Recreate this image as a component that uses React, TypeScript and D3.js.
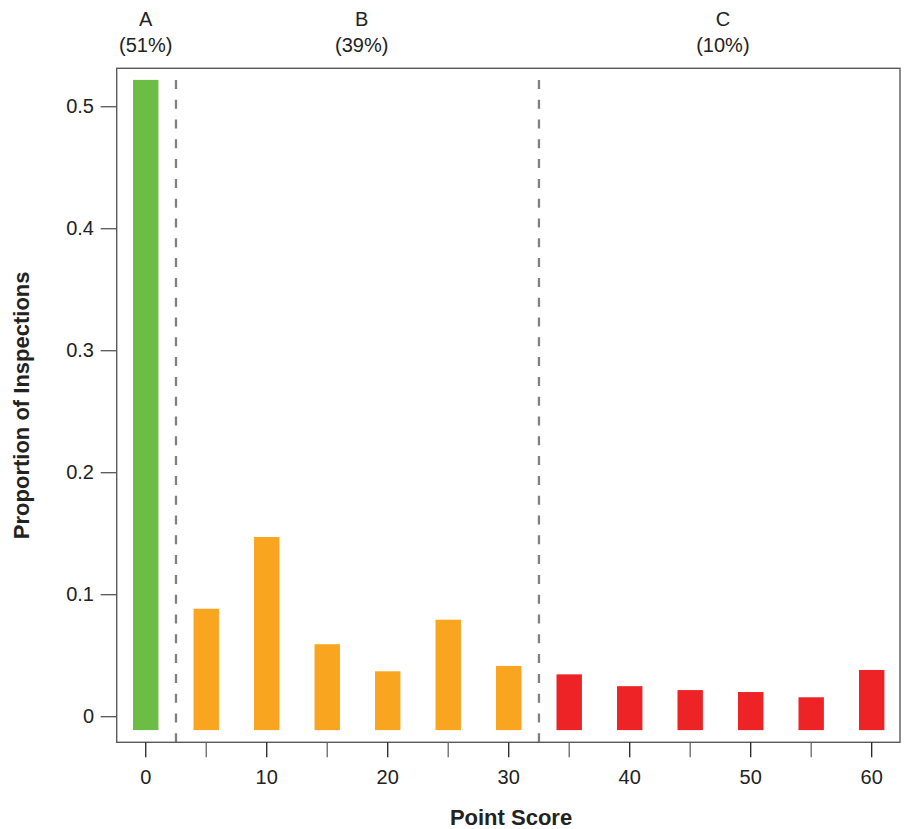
import React from "react";
import * as d3 from "d3";

// point scores (bins) and proportion of inspections per bin
const scores = [0, 5, 10, 15, 20, 25, 30, 35, 40, 45, 50, 55, 60];
const proportions = [
  0.522, 0.0885, 0.1473, 0.0594, 0.0372, 0.0795, 0.0416, 0.0347, 0.025,
  0.0218, 0.0202, 0.0159, 0.0383,
];
const gradeOf = (s: number) => (s <= 0 ? "A" : s <= 30 ? "B" : "C");

const gradeColors: Record<string, string> = {
  A: "#6cbd45",
  B: "#f9a51f",
  C: "#ee2326",
};

// grade labels on top
const gradeNames = ["A", "B", "C"];
const gradeShares = ["(51%)", "(39%)", "(10%)"];
const gradeLabelAt = [0, 17.85, 47.7];

// grade cut-offs
const cutoffs = [2.5, 32.5];

const xMajorTicks = [0, 10, 20, 30, 40, 50, 60];
const xMinorTicks = [5, 15, 25, 35, 45, 55];
const yTicks = [0, 0.1, 0.2, 0.3, 0.4, 0.5];

const barBase = -0.011;
const barHalf = 1.05;

export default function App() {
  const width = 906;
  const height = 829;
  const left = 116.7;
  const right = 900;
  const top = 68.3;
  const bottom = 742.3;

  const x = d3.scaleLinear().domain([-2.4, 62.34]).range([left, right]);
  const y = d3.scaleLinear().domain([-0.021, 0.5315]).range([bottom, top]);

  const font = "'Liberation Sans', Arial, sans-serif";

  return (
    <svg
      width={width}
      height={height}
      style={{ position: "absolute", left: 0, top: 0, fontFamily: font }}
    >
      <rect width={width} height={height} fill="#fff" />

      {/* bars */}
      {scores.map((s, i) => (
        <rect
          key={s}
          x={x(s - barHalf)}
          y={y(proportions[i])}
          width={x(s + barHalf) - x(s - barHalf)}
          height={y(barBase) - y(proportions[i])}
          fill={gradeColors[gradeOf(s)]}
        />
      ))}

      {/* cut-off lines, dashed from the bottom up */}
      {cutoffs.map((c) => (
        <line
          key={c}
          x1={x(c)}
          x2={x(c)}
          y1={bottom}
          y2={top}
          stroke="#808080"
          strokeWidth={2.3}
          strokeDasharray="9,10.8"
        />
      ))}

      {/* box */}
      <rect
        x={left}
        y={top}
        width={right - left}
        height={bottom - top}
        fill="none"
        stroke="#5a5a5a"
        strokeWidth={1.4}
      />

      {/* x ticks */}
      {xMajorTicks.map((t) => (
        <g key={t}>
          <line x1={x(t)} x2={x(t)} y1={bottom} y2={bottom + 15} stroke="#222" strokeWidth={1.3} />
          <text x={x(t)} y={783.5} textAnchor="middle" fontSize={20} fill="#222">
            {t}
          </text>
        </g>
      ))}
      {xMinorTicks.map((t) => (
        <line key={t} x1={x(t)} x2={x(t)} y1={bottom} y2={bottom + 15} stroke="#666" strokeWidth={1.3} />
      ))}

      {/* y ticks */}
      {yTicks.map((t) => (
        <g key={t}>
          <line x1={left - 16} x2={left} y1={y(t)} y2={y(t)} stroke="#555" strokeWidth={1.3} />
          <text x={94} y={y(t) + 6.6} textAnchor="end" fontSize={20} fill="#222">
            {t === 0 ? "0" : t.toFixed(1)}
          </text>
        </g>
      ))}

      {/* grade labels */}
      {gradeNames.map((g, i) => (
        <g key={g}>
          <text x={x(gradeLabelAt[i])} y={25.7} textAnchor="middle" fontSize={20} fill="#222">
            {g}
          </text>
          <text x={x(gradeLabelAt[i])} y={52} textAnchor="middle" fontSize={20} fill="#222">
            {gradeShares[i]}
          </text>
        </g>
      ))}

      {/* axis titles */}
      <text x={511} y={825} textAnchor="middle" fontSize={22} fontWeight="bold" fill="#222">
        Point Score
      </text>
      <text
        transform={`translate(28.5, ${(top + bottom) / 2}) rotate(-90)`}
        textAnchor="middle"
        fontSize={22}
        fontWeight="bold"
        fill="#222"
      >
        Proportion of Inspections
      </text>
    </svg>
  );
}
